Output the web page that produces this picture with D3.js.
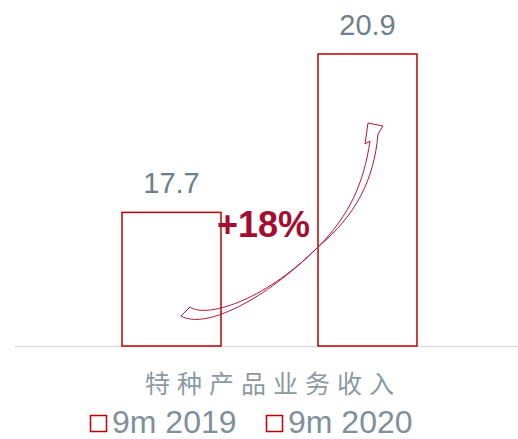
<!DOCTYPE html>
<html>
<head>
<meta charset="utf-8">
<script src="https://cdn.jsdelivr.net/npm/d3@7"></script>
<style>
  body { margin: 0; background: #fff; }
  svg { display: block; }
</style>
</head>
<body>
<svg width="518" height="439"></svg>
<script>
// chart data
var series = ["9m 2019", "9m 2020"];
var values = [17.7, 20.9];
var category = "特种产品业务收入";
var growth = "+18%";

var width = 518, height = 439;
var red = "#c00000", grey = "#6f8089";

var svg = d3.select("svg");

var x = d3.scaleBand()
    .domain(series)
    .range([25, 514])
    .padding(0.495);

// axis doesn't start at zero in the original
var y = d3.scaleLinear()
    .domain([15, 20.9])
    .range([346, 54]);

// baseline
svg.append("line")
    .attr("x1", 15).attr("x2", width)
    .attr("y1", y(15) + 0.5).attr("y2", y(15) + 0.5)
    .attr("stroke", "#d9dde0")
    .attr("stroke-width", 1.5);

// bars
svg.selectAll(".bar")
    .data(values)
    .enter().append("rect")
    .attr("class", "bar")
    .attr("x", function(d, i) { return x(series[i]); })
    .attr("y", function(d) { return y(d); })
    .attr("width", x.bandwidth())
    .attr("height", function(d) { return y(15) - y(d); })
    .attr("fill", "none")
    .attr("stroke", red)
    .attr("stroke-width", 1.5);

// value labels
svg.selectAll(".val")
    .data(values)
    .enter().append("text")
    .attr("class", "val")
    .attr("x", function(d, i) { return x(series[i]) + x.bandwidth() / 2; })
    .attr("y", function(d) { return y(d) - 19; })
    .attr("text-anchor", "middle")
    .style("font-family", "Liberation Sans, Arial, sans-serif")
    .style("font-size", "29px")
    .attr("fill", grey)
    .text(function(d) { return d.toFixed(1); });

// curved growth arrow (hollow ribbon)
var arrow = "M190,307 C205,318 262,303 318,247 C350,215 364,182 370,141 " +
    "L365,144 L368,123 L383,126 L378,134 " +
    "C374,180 356,215 318,247 C265,300 205,330 181,316 Z";
svg.append("path")
    .attr("d", arrow)
    .attr("fill", "none")
    .attr("stroke", "#b0173c")
    .attr("stroke-width", 1)
    .attr("stroke-linejoin", "round");

// growth label
svg.append("text")
    .attr("x", 217)
    .attr("y", 237)
    .style("font-family", "Liberation Sans, Arial, sans-serif")
    .style("font-size", "36px")
    .style("font-weight", "bold")
    .attr("fill", "#a50d30")
    .text(growth);

// category label
svg.append("text")
    .attr("x", 145)
    .attr("y", 393)
    .style("font-family", "Noto Sans CJK SC, sans-serif")
    .style("font-size", "25px")
    .style("letter-spacing", "7px")
    .attr("fill", "#8a9aa2")
    .text(category);

// legend
var legend = svg.selectAll(".legend")
    .data(series)
    .enter().append("g")
    .attr("class", "legend")
    .attr("transform", function(d, i) { return "translate(" + (90 + i * 176) + ",415)"; });

legend.append("rect")
    .attr("x", 0.5).attr("y", 0.5)
    .attr("width", 16).attr("height", 16)
    .attr("fill", "none")
    .attr("stroke", red)
    .attr("stroke-width", 1.5);

legend.append("text")
    .attr("x", 22)
    .attr("y", 18)
    .style("font-family", "Liberation Sans, Arial, sans-serif")
    .style("font-size", "32px")
    .attr("fill", "#7f9098")
    .text(function(d) { return d; });
</script>
</body>
</html>
